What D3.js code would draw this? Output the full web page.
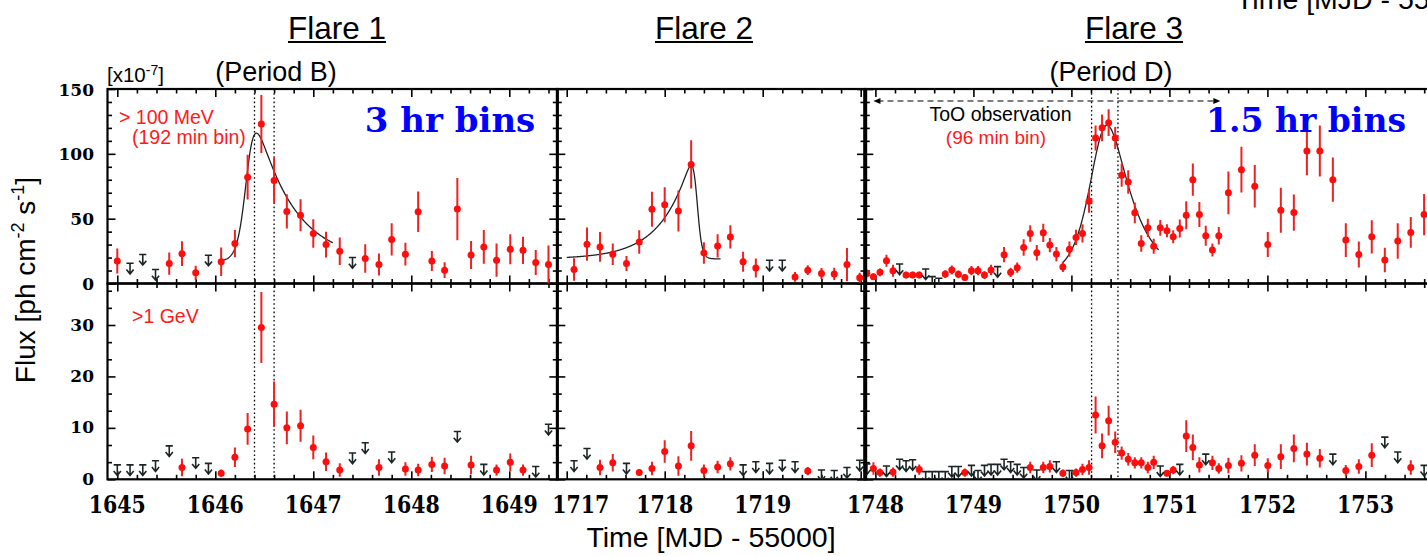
<!DOCTYPE html>
<html>
<head>
<meta charset="utf-8">
<script src="https://cdn.jsdelivr.net/npm/d3@7"></script>
<style>
  html, body { margin: 0; padding: 0; background: #fff; overflow: hidden; }
  svg { display: block; font-family: "Liberation Sans", Arial, Helvetica, sans-serif; }
  .num { font-family: "DejaVu Serif", serif; font-weight: bold; }
  .bins { font-family: "DejaVu Serif", serif; font-weight: bold; }
</style>
</head>
<body>
<script>
// ---------------------------------------------------------------
// Flare 1 (Period B), 192-min bins. Flux in units of 1e-7 ph cm^-2 s^-1.
// An error of null marks a 95% upper limit.
// ---------------------------------------------------------------
const f1Time = [1645.00, 1645.13, 1645.26, 1645.39, 1645.53, 1645.66, 1645.80, 1645.93,
  1646.06, 1646.20, 1646.33, 1646.47, 1646.60, 1646.73, 1646.87, 1647.00, 1647.13, 1647.27,
  1647.40, 1647.53, 1647.67, 1647.80, 1647.94, 1648.07, 1648.21, 1648.34, 1648.47, 1648.61,
  1648.74, 1648.87, 1649.01, 1649.14, 1649.27, 1649.40];
const f1Hi = [17.4, 15.6, 22.4, 10.8, 15.4, 23.0, 8.2, 21.8, 16.7, 30.8, 82.0, 123.0, 79.5,
  55.6, 52.6, 38.5, 30.0, 24.9, 20.0, 19.2, 14.6, 34.0, 22.6, 55.4, 17.4, 10.3, 57.4, 22.0,
  28.2, 18.0, 26.4, 25.6, 16.2, 14.6];
const f1HiErr = [9.6, null, null, null, 8.6, 9.6, 5.5, null, 11.0, 10.5, 17.3, 22.4, 17.7,
  13.2, 12.3, 11.0, 10.0, 10.6, null, 11.0, 8.5, 12.4, 8.8, 15.6, 7.7, 6.0, 24.0, 10.8,
  13.0, 12.8, 11.5, 10.5, 9.7, 14.7];
const f1Lo = [2.8, 2.8, 2.8, 3.6, 6.5, 2.3, 4.2, 3.1, 1.2, 4.3, 9.8, 29.5, 14.6, 10.0, 10.4,
  6.2, 3.4, 1.8, 5.1, 7.1, 2.3, 5.3, 2.0, 1.8, 2.9, 2.6, 9.3, 2.8, 2.9, 1.8, 3.3, 1.8, 2.5, 10.7];
const f1LoErr = [null, null, null, null, null, 1.7, null, null, 0.7, 1.9, 3.1, 6.9, 4.4, 3.2,
  3.1, 2.3, 1.8, 1.3, null, null, 1.6, null, 1.3, 1.2, 1.5, 1.6, null, 1.8, null, 1.1, 1.7,
  1.1, null, null];

// ---------------------------------------------------------------
// Flare 2, 192-min bins
// ---------------------------------------------------------------
const f2Time = [1717.075, 1717.207, 1717.340, 1717.470, 1717.610, 1717.740, 1717.870,
  1718.000, 1718.140, 1718.270, 1718.400, 1718.540, 1718.670, 1718.800, 1718.930, 1719.070,
  1719.200, 1719.330, 1719.460, 1719.600, 1719.730, 1719.860, 1719.990];
const f2Hi = [10.8, 30.3, 28.2, 22.6, 15.4, 32.0, 57.2, 60.8, 55.9, 91.8, 23.6, 29.0, 35.9,
  16.7, 12.0, 17.9, 17.9, 5.1, 10.3, 7.7, 7.4, 14.6, 4.4];
const f2HiErr = [8.6, 12.8, 11.5, 8.3, 5.8, 9.0, 13.5, 13.5, 15.8, 18.6, 8.3, 9.0, 9.0, 7.7,
  7.3, null, null, 3.8, 3.8, 4.2, 4.7, 12.8, 3.8];
const f2Lo = [3.6, 6.0, 2.3, 3.2, 3.1, 1.3, 2.1, 5.4, 2.6, 6.5, 1.7, 2.4, 3.0, 2.8, 3.4, 3.1,
  3.7, 3.4, 1.6, 1.8, 1.7, 2.3, 3.7];
const f2LoErr = [null, null, 1.5, 1.7, null, 0.6, 1.3, 2.2, 1.9, 2.9, 1.2, 1.2, 1.3, null,
  null, null, null, null, 0.8, null, null, null, null];

// ---------------------------------------------------------------
// Flare 3 (Period D): 96-min bins during the ToO, 192-min bins after
// ---------------------------------------------------------------
const f3Time = [1747.913, 1747.980, 1748.047, 1748.113, 1748.180, 1748.247, 1748.313,
  1748.380, 1748.447, 1748.513, 1748.580, 1748.647, 1748.713, 1748.780, 1748.847, 1748.913,
  1748.980, 1749.047, 1749.113, 1749.180, 1749.247, 1749.313, 1749.380, 1749.447, 1749.513,
  1749.580, 1749.647, 1749.713, 1749.780, 1749.847, 1749.913, 1749.980, 1750.047, 1750.113,
  1750.180, 1750.247, 1750.313, 1750.380, 1750.447, 1750.513, 1750.580, 1750.647, 1750.713,
  1750.780, 1750.840, 1750.907, 1750.975, 1751.039, 1751.106, 1751.172, 1751.239, 1751.306,
  1751.371, 1751.439, 1751.504, 1751.602, 1751.735, 1751.871, 1752.004, 1752.137, 1752.270,
  1752.403, 1752.535, 1752.668, 1752.800, 1752.933, 1753.065, 1753.198, 1753.330, 1753.463,
  1753.599];
const f3Hi = [7.8, 5.3, 8.6, 17.6, 9.9, 15.0, 6.5, 6.5, 6.5, 11.2, 5.3, 4.0, 7.3, 10.4, 7.1,
  4.7, 9.9, 9.9, 6.5, 10.4, 13.0, 22.2, 8.6, 12.2, 27.8, 38.6, 23.7, 39.1, 29.6, 22.7, 12.7,
  26.5, 35.5, 38.6, 63.5, 112.2, 120.1, 124.0, 112.2, 83.5, 78.3, 54.5, 30.9, 42.9, 28.8,
  42.9, 40.6, 36.0, 42.4, 52.7, 80.1, 53.2, 36.8, 25.8, 36.8, 69.9, 87.8, 75.0, 30.1, 56.5,
  54.7, 102.2, 102.2, 80.1, 33.5, 22.4, 36.0, 18.1, 32.7, 39.4, 53.2];
const f3HiErr = [3.0, 2.5, 3.0, 4.6, 4.6, null, 2.5, 2.5, 2.5, null, null, null, 3.0, 3.5,
  3.0, 2.5, 3.5, 3.5, 3.0, 4.0, null, 5.9, 3.5, 4.0, 6.4, 6.4, 6.0, 7.0, 5.5, 5.5, 3.8, 5.8,
  5.9, 7.0, 9.0, 9.7, 10.3, 10.3, 8.5, 8.8, 9.0, 8.0, 6.4, 7.0, 5.8, 6.0, 5.0, 5.0, 7.0,
  10.8, 12.4, 9.6, 7.7, 5.0, 6.8, 16.4, 17.7, 16.4, 9.6, 17.3, 14.0, 18.8, 19.7, 17.0, 13.0,
  10.0, 12.8, 9.4, 13.7, 11.8, 15.9];
const f3Lo = [3.0, 2.1, 1.3, 2.6, 1.4, 3.9, 3.6, 3.8, 1.9, 1.5, 1.5, 1.5, 1.5, 2.5, 2.5, 1.3,
  2.7, 1.7, 2.7, 2.9, 2.9, 3.9, 3.4, 2.9, 2.3, 2.3, 1.8, 2.3, 2.5, 3.4, 1.2, 1.7, 1.3, 1.9,
  2.3, 12.5, 6.5, 11.4, 7.2, 5.1, 3.9, 3.2, 3.2, 2.3, 3.3, 2.6, 1.2, 1.8, 2.9, 8.4, 6.2, 2.8,
  4.9, 3.2, 2.1, 2.7, 3.1, 4.7, 2.7, 4.4, 6.0, 4.9, 4.1, 4.9, 1.7, 2.5, 4.7, 8.2, 5.3, 2.3, 2.7];
const f3LoErr = [null, 1.2, 0.8, null, 0.9, null, null, null, 1.0, null, null, null, null,
  null, null, 0.8, null, null, null, null, null, null, null, null, null, 1.1, null, 1.1, 1.2,
  null, 0.7, null, 0.8, 1.1, 1.4, 3.6, 2.4, 2.9, 2.1, 1.3, 1.2, 1.1, 1.1, 1.1, 1.3, null, 0.6,
  0.8, null, 3.1, 2.5, 1.5, null, 1.4, 1.0, 1.5, 1.6, 2.1, 1.4, 2.4, 2.7, 2.2, 1.8, null, 1.1,
  1.4, 2.3, null, null, 1.4, null];

// Flare-profile fits above 100 MeV: [baseline, amplitude, t0, rise time, decay time]
const f1FitParams = [17, 141.8, 1646.33, 0.05, 0.38];
const f1FitSpan = [1646.05, 1647.20];
const f2FitParams = [19, 94.4, 1718.327, 0.30, 0.025];
const f2FitSpan = [1717.00, 1718.57];
const f3FitParams = [6, 221.8, 1750.312, 0.13, 0.24];
const f3FitSpan = [1749.905, 1750.890];

// Peak intervals (dotted) and the ToO window
const f1Marks = [1646.40, 1646.60];
const f3Marks = [1750.206, 1750.475];
const tooSpan = [1747.98, 1751.52];

// Axis tick labels
const f1DayTicks = [1645, 1646, 1647, 1648, 1649];
const f2DayTicks = [1717, 1718, 1719];
const f3DayTicks = [1748, 1749, 1750, 1751, 1752, 1753];
const hiFluxTicks = [0, 50, 100, 150];
const loFluxTicks = [0, 10, 20, 30];

// ---------------------------------------------------------------
const W = 1427, H = 556;
const yTop = 89, yMid = 283.5, yBot = 479.3;
const RED = "#ff0d0d", BAR = "#ee2020", UL = "#1b2525";

const svg = d3.select("body").append("svg").attr("width", W).attr("height", H);

const yHi = d3.scaleLinear().domain([0, 150]).range([yMid, yTop]);
const yLo = d3.scaleLinear().domain([0, 38.07]).range([yBot, yMid]);

const panels = [
  { x: d3.scaleLinear().domain([1644.90, 1649.49]).range([107.5, 557.3]), days: f1DayTicks,
    firstLabelShift: 0,
    t: f1Time, hi: f1Hi, hiErr: f1HiErr, lo: f1Lo, loErr: f1LoErr,
    fit: f1FitParams, fitSpan: f1FitSpan, marks: f1Marks },
  { x: d3.scaleLinear().domain([1716.904, 1720.044]).range([557.3, 865.0]), days: f2DayTicks,
    firstLabelShift: 14,
    t: f2Time, hi: f2Hi, hiErr: f2HiErr, lo: f2Lo, loErr: f2LoErr,
    fit: f2FitParams, fitSpan: f2FitSpan, marks: [] },
  { x: d3.scaleLinear().domain([1747.897, 1754.0]).range([865.3, 1463.4]), days: f3DayTicks,
    firstLabelShift: 0,
    t: f3Time, hi: f3Hi, hiErr: f3HiErr, lo: f3Lo, loErr: f3LoErr,
    fit: f3FitParams, fitSpan: f3FitSpan, marks: f3Marks }
];

// clip rectangles for the two energy bands
const defs = svg.append("defs");
defs.append("clipPath").attr("id", "clipHi").append("rect")
  .attr("x", 0).attr("y", yTop).attr("width", W).attr("height", yMid - yTop);
defs.append("clipPath").attr("id", "clipLo").append("rect")
  .attr("x", 0).attr("y", yMid).attr("width", W).attr("height", yBot - yMid);

function flareProfile(p, t) {
  const [b, a, t0, tr, td] = p;
  return b + a / (Math.exp((t0 - t) / tr) + Math.exp((t - t0) / td));
}

function styleAxis(g) {
  g.select(".domain").remove();
  g.selectAll(".tick line").attr("stroke", "#000").attr("stroke-width", 1.6);
  return g;
}

panels.forEach((p) => {
  const x = p.x;
  const [x0, x1] = x.range();
  const [d0, d1] = x.domain();
  const major = d3.range(Math.ceil(d0), Math.floor(d1) + 1);
  const minor = d3.range(Math.ceil(d0 * 5), Math.floor(d1 * 5) + 1).map(v => v / 5)
    .filter(v => Math.abs(v - Math.round(v)) > 1e-6);

  [[yHi, yTop, yMid, hiFluxTicks, d3.range(10, 150, 10).filter(v => v % 50)],
   [yLo, yMid, yBot, loFluxTicks, d3.range(1, 12).map(k => k * 10 / 3).filter((v, k) => (k + 1) % 3)]]
  .forEach(([y, top, bot, yMaj, yMinor]) => {
    const g = svg.append("g");
    // x ticks: bottom edge pointing up, top edge pointing down
    styleAxis(g.append("g").attr("transform", `translate(0,${bot})`)
      .call(d3.axisBottom(x).tickValues(major).tickSize(-8).tickFormat("")));
    styleAxis(g.append("g").attr("transform", `translate(0,${bot})`)
      .call(d3.axisBottom(x).tickValues(minor).tickSize(-4.5).tickFormat("")));
    styleAxis(g.append("g").attr("transform", `translate(0,${top})`)
      .call(d3.axisTop(x).tickValues(major).tickSize(-8).tickFormat("")));
    styleAxis(g.append("g").attr("transform", `translate(0,${top})`)
      .call(d3.axisTop(x).tickValues(minor).tickSize(-4.5).tickFormat("")));
    // y ticks on both vertical edges, pointing inward
    styleAxis(g.append("g").attr("transform", `translate(${x0},0)`)
      .call(d3.axisLeft(y).tickValues(yMaj).tickSize(-8).tickFormat("")));
    styleAxis(g.append("g").attr("transform", `translate(${x0},0)`)
      .call(d3.axisLeft(y).tickValues(yMinor).tickSize(-4.5).tickFormat("")));
    styleAxis(g.append("g").attr("transform", `translate(${x1},0)`)
      .call(d3.axisRight(y).tickValues(yMaj).tickSize(-8).tickFormat("")));
    styleAxis(g.append("g").attr("transform", `translate(${x1},0)`)
      .call(d3.axisRight(y).tickValues(yMinor).tickSize(-4.5).tickFormat("")));
    // frame
    g.append("rect").attr("x", x0).attr("y", top).attr("width", x1 - x0).attr("height", bot - top)
      .attr("fill", "none").attr("stroke", "#000").attr("stroke-width", 2.2);
  });

  // day labels
  svg.append("g").selectAll("g").data(p.days).join("g")
    .attr("transform", (d, k) =>
      `translate(${x(d) + (k === 0 ? p.firstLabelShift : 0)},${yBot + 34}) scale(1,1.2)`)
    .append("text").attr("class", "num").attr("text-anchor", "middle")
    .attr("font-size", 20.5).attr("fill", "#000").text(d => d);

  // dotted peak markers across both bands
  svg.append("g").selectAll("line").data(p.marks).join("line")
    .attr("x1", d => x(d)).attr("x2", d => x(d)).attr("y1", yTop).attr("y2", yBot)
    .attr("stroke", "#000").attr("stroke-width", 1.3).attr("stroke-dasharray", "1.6,2.6");

  // fitted profile
  const tt = d3.range(p.fitSpan[0], p.fitSpan[1], 0.004).concat([p.fitSpan[1]]);
  svg.append("path").attr("clip-path", "url(#clipHi)")
    .attr("d", d3.line().x(t => x(t)).y(t => yHi(flareProfile(p.fit, t)))(tt))
    .attr("fill", "none").attr("stroke", "#222").attr("stroke-width", 1.3);

  // measurements and upper limits in both bands
  [[yHi, p.hi, p.hiErr, "url(#clipHi)"], [yLo, p.lo, p.loErr, "url(#clipLo)"]]
  .forEach(([y, val, err, clip]) => {
    const rows = p.t.map((t, k) => ({ t, v: val[k], e: err[k] }));
    const det = rows.filter(r => r.e !== null);
    const lim = rows.filter(r => r.e === null);
    const g = svg.append("g").attr("clip-path", clip);
    g.selectAll("line.eb").data(det).join("line").attr("class", "eb")
      .attr("x1", r => x(r.t)).attr("x2", r => x(r.t))
      .attr("y1", r => y(r.v - r.e)).attr("y2", r => y(r.v + r.e))
      .attr("stroke", BAR).attr("stroke-width", 2);
    g.selectAll("circle").data(det).join("circle")
      .attr("cx", r => x(r.t)).attr("cy", r => y(r.v)).attr("r", 3.5).attr("fill", RED);
    g.selectAll("path.ul").data(lim).join("path").attr("class", "ul")
      .attr("transform", r => `translate(${x(r.t)},${y(r.v)})`)
      .attr("d", "M-3.6,0H3.6M0,0V10.5M-3.6,6.2L0,10.6L3.6,6.2")
      .attr("fill", "none").attr("stroke", UL).attr("stroke-width", 1.6);
  });
});

// heavier joins between adjacent panels
[557.3, 865.2].forEach(xv => {
  svg.append("line").attr("x1", xv).attr("x2", xv).attr("y1", yTop - 1).attr("y2", yBot + 1)
    .attr("stroke", "#000").attr("stroke-width", xv > 800 ? 4 : 3);
});

// flux labels on the left axis
svg.append("g").attr("transform", "translate(107.5,0)")
  .call(d3.axisLeft(yHi).tickValues(hiFluxTicks).tickSize(0).tickPadding(13.5))
  .call(g => g.select(".domain").remove())
  .selectAll("text").attr("class", "num").attr("font-size", 17).attr("fill", "#000")
  .attr("dy", "0.36em");
svg.append("g").attr("transform", "translate(107.5,0)")
  .call(d3.axisLeft(yLo).tickValues(loFluxTicks).tickSize(0).tickPadding(13.5))
  .call(g => g.select(".domain").remove())
  .selectAll("text").attr("class", "num").attr("font-size", 17).attr("fill", "#000")
  .attr("dy", "0.30em");

// ToO window arrow
const x3 = panels[2].x;
const yToo = 101;
svg.append("line").attr("x1", x3(tooSpan[0]) + 4).attr("x2", x3(tooSpan[1]) - 4)
  .attr("y1", yToo).attr("y2", yToo).attr("stroke", "#000").attr("stroke-width", 1.2)
  .attr("stroke-dasharray", "6,4");
svg.append("path").attr("fill", "#000")
  .attr("d", `M${x3(tooSpan[0])},${yToo}l7,-3v6z M${x3(tooSpan[1])},${yToo}l-7,-3v6z`);

// ---------- text ----------
function label(x, y, str, size, opts = {}) {
  const t = svg.append("text").attr("x", x).attr("y", y).attr("font-size", size)
    .attr("text-anchor", opts.anchor || "start").attr("fill", opts.fill || "#000")
    .text(str);
  if (opts.cls) t.attr("class", opts.cls);
  return t;
}

// titles with underline
[["Flare 1", 337], ["Flare 2", 704], ["Flare 3", 1134]].forEach(([s, cx]) => {
  const t = label(cx, 38.5, s, 31.5, { anchor: "middle" });
  const w = t.node().getComputedTextLength();
  svg.append("line").attr("x1", cx - w / 2).attr("x2", cx + w / 2)
    .attr("y1", 42).attr("y2", 42).attr("stroke", "#000").attr("stroke-width", 2);
});

label(276, 81, "(Period B)", 27, { anchor: "middle" });
label(1111, 81, "(Period D)", 27, { anchor: "middle" });

// scale factor
const sc = svg.append("text").attr("x", 107).attr("y", 82).attr("font-size", 20.5);
sc.append("tspan").text("[x10");
sc.append("tspan").attr("font-size", 14).attr("dy", -7).text("-7");
sc.append("tspan").attr("dy", 7).text("]");

label(119, 124, "> 100 MeV", 19.5, { fill: "#ff1a1a" });
label(132, 144, "(192 min bin)", 19.5, { fill: "#ff1a1a" });
label(132, 323, ">1 GeV", 19.5, { fill: "#ff1a1a" });
label(1000.5, 121, "ToO observation", 19.5, { anchor: "middle" });
label(996, 143.5, "(96 min bin)", 19, { anchor: "middle", fill: "#ff1a1a" });

label(450, 131.5, "3 hr bins", 34, { anchor: "middle", fill: "#0000ff", cls: "bins" });
label(1306, 131.5, "1.5 hr bins", 33, { anchor: "middle", fill: "#0000ff", cls: "bins" });

// axis titles
label(711, 546.5, "Time [MJD - 55000]", 28.5, { anchor: "middle" });
label(1236, 8.5, "Time [MJD - 55000]", 28.5);

const yl = svg.append("text").attr("transform", "translate(35,280) rotate(-90)")
  .attr("text-anchor", "middle").attr("font-size", 28);
yl.append("tspan").text("Flux [ph cm");
yl.append("tspan").attr("font-size", 18).attr("dy", -11).text("-2");
yl.append("tspan").attr("dy", 11).text(" s");
yl.append("tspan").attr("font-size", 18).attr("dy", -11).text("-1");
yl.append("tspan").attr("dy", 11).text("]");
</script>
</body>
</html>
